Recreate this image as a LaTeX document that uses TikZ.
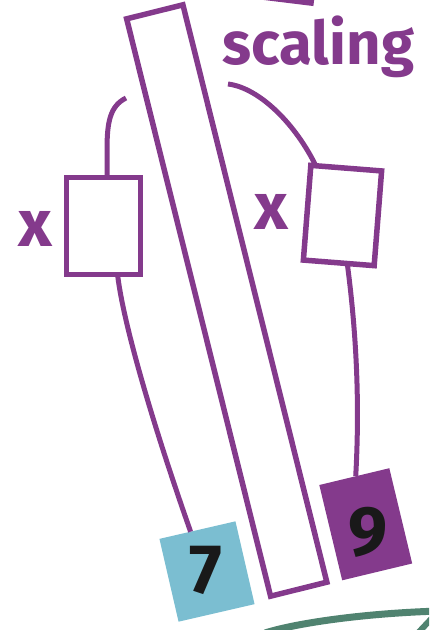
\documentclass[tikz,border=0pt]{standalone}
\usepackage{fontspec}
\setmainfont{Fira Sans}
\usetikzlibrary{calc}
\definecolor{pur}{RGB}{132,58,140}
\definecolor{lblue}{RGB}{123,190,209}
\definecolor{grn}{RGB}{80,131,112}
\begin{document}
\begin{tikzpicture}[x=1pt,y=-1pt,
  outl/.style={draw=pur, line width=5.5pt, inner sep=0pt, outer sep=0pt, fill=white},
  conn/.style={draw=pur, line width=5pt},
  tile/.style={inner sep=0pt, outer sep=0pt},
  lbl/.style={text=pur, font=\fontsize{60}{60}\selectfont\bfseries, inner sep=0pt},
  xlbl/.style={text=pur, font=\fontsize{66}{66}\selectfont\bfseries, inner sep=0pt},
  digit/.style={text=black!90, font=\fontsize{70}{70}\selectfont\bfseries, inner sep=0pt}]
\useasboundingbox (0,0) rectangle (429,630);
\clip (0,0) rectangle (429,630);
% top partial box
\node[outl, minimum width=90pt, minimum height=60pt, rotate=-7, anchor=south east] (topbox) at (311,3) {};
% long bar
\node[outl, minimum width=58pt, minimum height=595pt, rotate=14] (bar) at (226.75,300.5) {};
% boxes
\node[outl, minimum width=74pt, minimum height=97pt] (lbox) at (103.5,226) {};
\node[outl, minimum width=71pt, minimum height=95pt, rotate=-4.5] (rbox) at (342.5,215.5) {};
\node[tile, fill=lblue, minimum width=78pt, minimum height=85pt, rotate=13] (b7) at (207,571.5) {};
\node[tile, fill=pur, minimum width=72pt, minimum height=98pt, rotate=13.5] (b9) at (365.75,524.25) {};
% free ends
\coordinate (lt) at (126,98);
\coordinate (rt) at (228,84);
% connectors
\draw[conn] (lt) .. controls (110,106) and (107,122) .. (107,150) -- ($(lbox.north west)!0.55!(lbox.north east)$);
\draw[conn] ($(lbox.south west)!0.69!(lbox.south east)$) .. controls (124,330) and (160,445) .. ($(b7.north west)!0.41!(b7.north east)$);
\draw[conn] (rt) .. controls (260,88) and (296,125) .. ($(rbox.north west)!0.07!(rbox.north east)$);
\draw[conn] ($(rbox.south west)!0.62!(rbox.south east)$) .. controls (356,330) and (360,400) .. ($(b9.north west)!0.52!(b9.north east)$);
% labels
\node[lbl, anchor=base west] (scal) at (222,64) {scaling};
\node[xlbl] (x1) at (35,229) {x};
\node[xlbl] (x2) at (271,212) {x};
\node[digit] (n7) at (206,570) {7};
\node[digit] (n9) at (368,532) {9};
% green arc at bottom
\draw[grn, line width=7pt] (265,633) .. controls (300,622) and (370,613) .. (440,611);
\draw[grn, line width=6pt] (417,634) -- (433,617);
\end{tikzpicture}
\end{document}
